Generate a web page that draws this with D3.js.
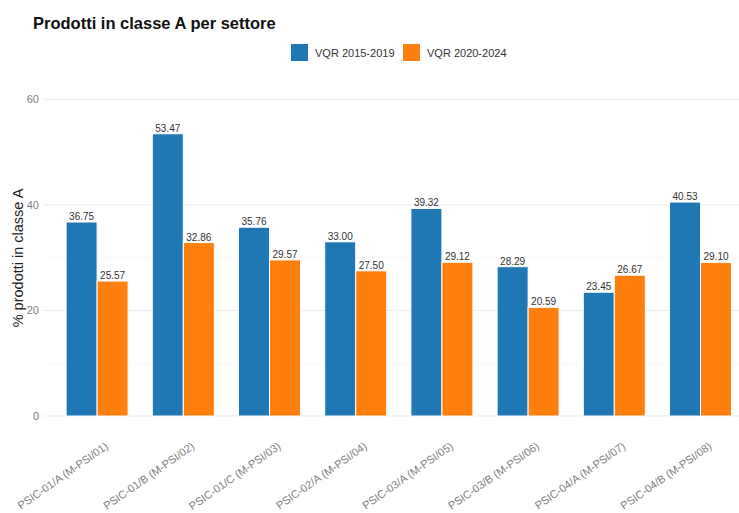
<!DOCTYPE html>
<html><head><meta charset="utf-8">
<script src="https://cdn.jsdelivr.net/npm/d3@7"></script>
<style>body{margin:0;background:#fff}svg{display:block;font-family:"Liberation Sans",Arial,sans-serif}</style>
</head><body><svg id="c" width="739" height="513"></svg>
<script>
const categories = ["PSIC-01/A (M-PSI/01)","PSIC-01/B (M-PSI/02)","PSIC-01/C (M-PSI/03)","PSIC-02/A (M-PSI/04)","PSIC-03/A (M-PSI/05)","PSIC-03/B (M-PSI/06)","PSIC-04/A (M-PSI/07)","PSIC-04/B (M-PSI/08)"];
const series = ["VQR 2015-2019","VQR 2020-2024"];
const vqr2015 = [36.75,53.47,35.76,33.00,39.32,28.29,23.45,40.53];
const vqr2020 = [25.57,32.86,29.57,27.50,29.12,20.59,26.67,29.10];
const colors = ["#1f77b4","#ff7f0e"];
const majorTicks = [0,20,40,60];
const minorTicks = [10,30,50];

const svg = d3.select("#c");
const plotLeft = 44, plotRight = 739;
const x = d3.scaleBand().domain(categories).range([54, 54 + 86.2*8]).padding(0);
const y = d3.scaleLinear().domain([0,60]).range([416,99.3]);
const xs = d3.scaleBand().domain(series).range([0,62]).padding(0);
const vals = [vqr2015, vqr2020];

// grid
svg.append("g").selectAll("line.minor").data(minorTicks).join("line")
  .attr("x1",plotLeft).attr("x2",plotRight).attr("y1",d=>y(d)).attr("y2",d=>y(d))
  .attr("stroke","#f4f4f4").attr("stroke-width",0.6);
svg.append("g").selectAll("line.major").data(majorTicks).join("line")
  .attr("x1",plotLeft).attr("x2",plotRight).attr("y1",d=>y(d)).attr("y2",d=>y(d))
  .attr("stroke","#ebebeb").attr("stroke-width",1);

// y axis
const ya = svg.append("g").attr("transform",`translate(${plotLeft},0)`)
  .call(d3.axisLeft(y).tickValues(majorTicks).tickSize(0).tickPadding(5));
ya.select(".domain").remove();
ya.selectAll("text").attr("fill","#808080").attr("font-size","11px").attr("font-family","Liberation Sans, Arial, sans-serif");

// bars
const groups = svg.append("g").selectAll("g").data(categories).join("g")
  .attr("transform",d=>`translate(${x(d)+x.bandwidth()/2-31},0)`);
series.forEach((s,si)=>{
  groups.append("rect")
    .attr("x",xs(s)).attr("width",xs.bandwidth())
    .attr("y",(d,i)=>y(vals[si][i])).attr("height",(d,i)=>y(0)-y(vals[si][i]))
    .attr("fill",colors[si]).attr("stroke","#fff").attr("stroke-width",1);
  groups.append("text")
    .attr("x",xs(s)+xs.bandwidth()/2).attr("y",(d,i)=>y(vals[si][i])-2)
    .attr("text-anchor","middle").attr("font-size","10px").attr("fill","#333")
    .text((d,i)=>vals[si][i].toFixed(2));
});

// x axis labels
const xa = svg.append("g").attr("transform",`translate(0,416)`)
  .call(d3.axisBottom(x).tickSize(0).tickPadding(0));
xa.select(".domain").remove();
xa.selectAll("text").attr("fill","#808080").attr("font-size","11px").attr("font-family","Liberation Sans, Arial, sans-serif")
  .attr("text-anchor","end").attr("dy",0).attr("y",0).attr("x",0)
  .attr("transform","translate(12,32) rotate(-35)");

// y title
svg.append("text").attr("transform","translate(23,258) rotate(-90)")
  .attr("text-anchor","middle").attr("font-size","14.5px").attr("fill","#222").text("% prodotti in classe A");

// title
svg.append("text").attr("x",33).attr("y",29).attr("font-size","16.5px").attr("font-weight","bold").attr("fill","#111")
  .text("Prodotti in classe A per settore");

// legend
const leg = svg.append("g");
const legX = [291,403];
series.forEach((s,i)=>{
  leg.append("rect").attr("x",legX[i]).attr("y",44).attr("width",17).attr("height",17).attr("fill",colors[i]);
  leg.append("text").attr("x",legX[i]+24).attr("y",56.5).attr("font-size","11px").attr("fill","#333").text(s);
});
</script></body></html>
